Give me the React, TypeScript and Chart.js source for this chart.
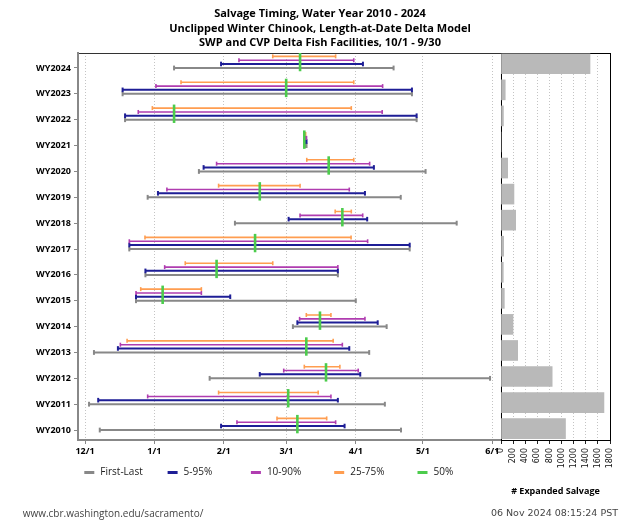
import React, { useEffect, useRef } from 'react';
import { Chart, registerables } from 'chart.js';

Chart.register(...registerables);

// ---------- data (timing values are days after Dec 1) ----------
const years = ['WY2024', 'WY2023', 'WY2022', 'WY2021', 'WY2020', 'WY2019', 'WY2018', 'WY2017', 'WY2016', 'WY2015', 'WY2014', 'WY2013', 'WY2012', 'WY2011', 'WY2010'];

const firstStart = [39.8, 16.8, 17.9, 98.4, 50.9, 28.0, 67.0, 19.8, 27.0, 22.8, 92.9, 4.0, 55.7, 1.8, 6.6];
const lastEnd = [137.9, 146.1, 148.2, 99.0, 152.2, 141.1, 166.1, 145.1, 113.0, 121.0, 134.8, 127.0, 181.0, 134.0, 141.2];

const p5Start = [60.8, 16.8, 17.9, 98.4, 53.0, 32.6, 91.0, 19.8, 27.0, 22.8, 94.9, 14.7, 78.1, 5.9, 60.8];
const p95End = [124.2, 146.1, 148.2, 99.0, 129.1, 125.1, 126.1, 145.1, 113.0, 64.9, 130.8, 118.1, 123.0, 113.0, 116.0];

const p10Start = [68.8, 31.7, 23.8, 98.4, 58.8, 36.6, 96.1, 19.8, 35.6, 22.8, 95.9, 15.8, 88.8, 28.0, 67.9];
const p90End = [120.1, 133.0, 132.8, 99.0, 127.2, 118.1, 124.1, 126.3, 113.0, 52.0, 125.1, 115.0, 122.1, 109.9, 112.0];

const p25Start = [83.9, 42.9, 30.1, 98.2, 99.1, 59.7, 111.8, 26.8, 44.8, 24.9, 98.9, 18.8, 98.0, 59.7, 85.8];
const p75End = [112.0, 120.1, 119.0, 98.6, 120.1, 96.1, 119.0, 118.9, 83.9, 52.0, 109.9, 110.9, 113.9, 104.2, 108.0];

const median = [96.1, 89.9, 39.8, 98.0, 108.9, 78.1, 115.0, 76.0, 58.8, 34.7, 105.0, 98.9, 107.7, 90.8, 94.9];

const salvage = [1470, 70, 40, 0, 110, 214, 242, 44, 38, 55, 198, 275, 845, 1700, 1065];

const dateTickDays = [0, 31, 62, 90, 121, 151, 182];
const dateTickLabels = ['12/1', '1/1', '2/1', '3/1', '4/1', '5/1', '6/1'];
const salvageTicks = [0, 200, 400, 600, 800, 1000, 1200, 1400, 1600, 1800];

const titleLines = [
  'Salvage Timing, Water Year 2010 - 2024',
  'Unclipped Winter Chinook, Length-at-Date Delta Model',
  'SWP and CVP Delta Fish Facilities, 10/1 - 9/30',
];
const seriesLabels = ['First-Last', '5-95%', '10-90%', '25-75%', '50%'];
const seriesColors = ['#888888', '#1e1e96', '#b03cb0', '#ff9d50', '#4ccc4c'];
const xAxisTitle = '# Expanded Salvage';
const footerUrl = 'www.cbr.washington.edu/sacramento/';
const footerStamp = '06 Nov 2024 08:15:24 PST';

// ---------- helpers ----------
function segments(starts: number[], ends: number[], off: number) {
  const out: any[] = [];
  starts.forEach((s, i) => {
    out.push({ x: s, y: i + off });
    out.push({ x: ends[i], y: i + off });
    out.push({ x: ends[i], y: null });
  });
  return out;
}

const legendFooterPlugin = {
  id: 'legendFooter',
  afterDraw(chart: any) {
    const ctx = chart.ctx;
    ctx.save();
    ctx.font = '10px "Open Sans"';
    ctx.textBaseline = 'middle';
    ctx.textAlign = 'left';
    seriesLabels.forEach((lab, i) => {
      const x = 84.3 + i * 83.3;
      ctx.fillStyle = seriesColors[i];
      ctx.fillRect(x, 471, 10, 3);
      ctx.fillStyle = '#222';
      ctx.fillText(lab, x + 16, 472.5);
    });
    ctx.fillStyle = '#444';
    ctx.fillText(footerUrl, 22.7, 514);
    ctx.font = '9.5px "DejaVu Sans"';
    ctx.textAlign = 'right';
    ctx.fillText(footerStamp, 618, 514);
    ctx.restore();
  },
};

export default function App() {
  const refA = useRef<HTMLCanvasElement>(null);
  const refB = useRef<HTMLCanvasElement>(null);

  useEffect(() => {
    const xMin = -3.13;
    const xMax = 185.9;
    const rangeDef = [
      { s: firstStart, e: lastEnd, off: 0, w: 2, r: 2.4 },
      { s: p5Start, e: p95End, off: -0.155, w: 2, r: 2.3 },
      { s: p10Start, e: p90End, off: -0.3, w: 1.6, r: 2.0 },
      { s: p25Start, e: p75End, off: -0.45, w: 1.6, r: 2.0 },
    ];
    const datasets: any[] = rangeDef.map((d, k) => ({
      label: seriesLabels[k],
      data: segments(d.s, d.e, d.off),
      borderColor: seriesColors[k],
      backgroundColor: seriesColors[k],
      borderWidth: d.w,
      pointStyle: 'line',
      pointRotation: 90,
      pointRadius: d.r,
      pointHoverRadius: d.r,
      pointBorderWidth: d.w,
      pointBorderColor: seriesColors[k],
      spanGaps: false,
      tension: 0,
      fill: false,
      order: 4 - k,
      xAxisID: 'x',
      yAxisID: 'y',
    }));
    datasets.push({
      label: seriesLabels[4],
      data: median.map((m, i) => ({ x: m, y: i - 0.23 })),
      showLine: false,
      borderColor: seriesColors[4],
      backgroundColor: seriesColors[4],
      pointStyle: 'line',
      pointRotation: 90,
      pointRadius: 9.2,
      pointHoverRadius: 9.2,
      pointBorderWidth: 2.6,
      pointBorderColor: seriesColors[4],
      order: 0,
      xAxisID: 'x',
      yAxisID: 'y',
    });

    const boldTick = { family: '"Open Sans"', size: 9, weight: 'bold' as const };

    const chartA = new Chart(refA.current!, {
      type: 'line',
      data: { datasets },
      options: {
        responsive: false,
        animation: false,
        devicePixelRatio: 1,
        events: [],
        layout: { padding: { left: 0, top: 53, right: 139, bottom: 70 } },
        plugins: {
          legend: { display: false },
          title: { display: false },
          tooltip: { enabled: false },
        },
        scales: {
          x: {
            type: 'linear',
            position: 'bottom',
            min: xMin,
            max: xMax,
            offset: false,
            afterBuildTicks: (s: any) => {
              s.ticks = dateTickDays.map((v) => ({ value: v }));
            },
            afterFit: (s: any) => {
              s.height = 20;
            },
            ticks: {
              autoSkip: false,
              maxRotation: 0,
              minRotation: 0,
              padding: 2,
              color: '#000',
              font: boldTick,
              callback: (_v: any, i: number) => dateTickLabels[i],
            },
            grid: {
              color: '#c4c4c4',
              lineWidth: 1,
              drawTicks: true,
              tickLength: 4,
              tickColor: '#888',
              tickWidth: 1,
              tickBorderDash: [],
            },
            border: { display: true, color: '#888', width: 2, dash: [1, 2] },
          },
          xTop: {
            type: 'linear',
            position: 'top',
            min: xMin,
            max: xMax,
            afterFit: (s: any) => {
              s.height = 0;
            },
            ticks: { display: false },
            grid: { display: false },
            border: { display: true, color: '#333', width: 1 },
          },
          y: {
            type: 'linear',
            min: -0.58,
            max: 14.385,
            reverse: true,
            offset: false,
            afterBuildTicks: (s: any) => {
              s.ticks = years.map((_, i) => ({ value: i }));
            },
            afterFit: (s: any) => {
              s.width = 78;
            },
            ticks: {
              autoSkip: false,
              padding: 3,
              color: '#000',
              font: boldTick,
              callback: (_v: any, i: number) => years[i],
            },
            grid: { drawOnChartArea: false, drawTicks: true, tickLength: 4, tickColor: '#888' },
            border: { display: true, color: '#888', width: 2 },
          },
        },
      } as any,
      plugins: [legendFooterPlugin],
    });

    const chartB = new Chart(refB.current!, {
      type: 'bar',
      data: {
        datasets: [
          {
            label: xAxisTitle,
            data: salvage.map((v, i) => ({ x: v, y: i })),
            backgroundColor: '#b9b9b9',
            borderWidth: 0,
            barThickness: 20,
            xAxisID: 'x',
            yAxisID: 'y',
          },
        ],
      },
      options: {
        indexAxis: 'y',
        responsive: false,
        animation: false,
        devicePixelRatio: 1,
        events: [],
        layout: { padding: { left: 0, right: 0, top: 0, bottom: 30 } },
        plugins: {
          legend: { display: false },
          tooltip: { enabled: false },
          title: {
            display: true,
            text: titleLines,
            color: '#000',
            font: { family: '"Open Sans"', size: 11, weight: 'bold', lineHeight: 1.332 },
            padding: { top: 6.7, bottom: 2.35 },
          },
        },
        scales: {
          x: {
            type: 'linear',
            position: 'bottom',
            min: 0,
            max: 1800,
            offset: false,
            afterBuildTicks: (s: any) => {
              s.ticks = salvageTicks.map((v) => ({ value: v }));
            },
            afterFit: (s: any) => {
              s.height = 60;
            },
            ticks: {
              autoSkip: false,
              minRotation: 90,
              maxRotation: 90,
              padding: 4,
              color: '#111',
              font: { family: '"DejaVu Sans"', size: 8 },
              callback: (_v: any, i: number) => String(salvageTicks[i]),
            },
            grid: {
              offset: false,
              color: '#c4c4c4',
              lineWidth: 1,
              drawTicks: true,
              tickLength: 4,
              tickColor: '#222',
              tickBorderDash: [],
            },
            border: { display: true, color: '#000', width: 1, dash: [1, 2] },
            title: {
              display: true,
              text: xAxisTitle,
              color: '#000',
              font: { family: '"Open Sans"', size: 9, weight: 'bold' },
              padding: { top: 0, bottom: 3 },
            },
          },
          xTop: {
            type: 'linear',
            position: 'top',
            min: 0,
            max: 1800,
            afterFit: (s: any) => {
              s.height = 0;
            },
            ticks: { display: false },
            grid: { display: false },
            border: { display: true, color: '#000', width: 1 },
          },
          y: {
            type: 'linear',
            position: 'left',
            min: -0.414,
            max: 14.436,
            reverse: true,
            offset: false,
            afterFit: (s: any) => {
              s.width = 501;
            },
            ticks: { display: false },
            grid: { display: false, offset: false },
            border: { display: true, color: '#000', width: 1 },
          },
          y2: {
            type: 'linear',
            position: 'right',
            min: 0,
            max: 1,
            afterFit: (s: any) => {
              s.width = 30;
            },
            ticks: { display: false },
            grid: { display: false },
            border: { display: true, color: '#000', width: 1 },
          },
        },
      } as any,
    });

    return () => {
      chartA.destroy();
      chartB.destroy();
    };
  }, []);

  return (
    <div style={{ position: 'absolute', left: 0, top: 0, width: 640, height: 530, background: '#fff' }}>
      <canvas ref={refA} width={640} height={530} style={{ position: 'absolute', left: 0, top: 0 }} />
      <canvas ref={refB} width={640} height={530} style={{ position: 'absolute', left: 0, top: 0 }} />
    </div>
  );
}
